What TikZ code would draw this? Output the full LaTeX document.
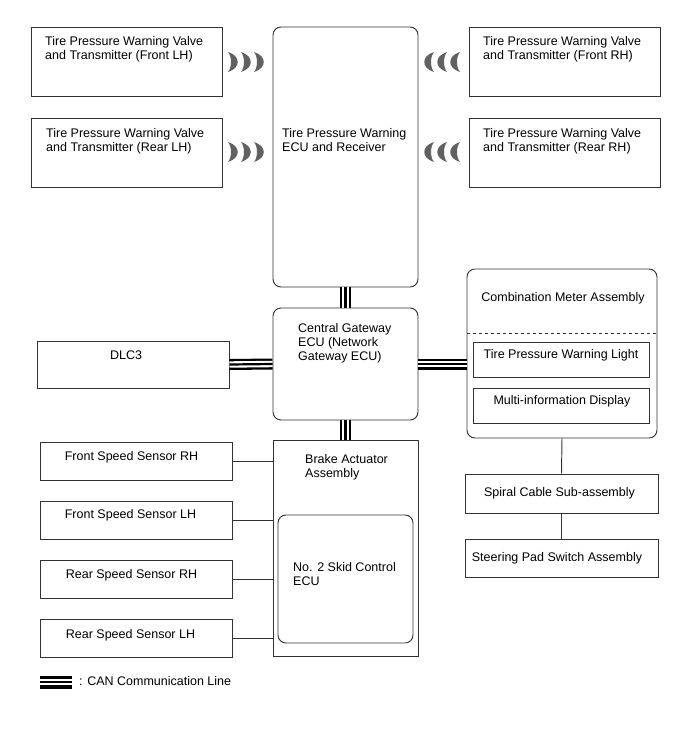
\documentclass[tikz,border=0pt]{standalone}
\usepackage{fontspec}
\setmainfont{Liberation Sans}
\usepackage{tikz}
\usetikzlibrary{positioning}
\tikzset{
  box/.style={draw=black!80, line width=0.95pt, inner sep=0pt},
  rbox/.style={box, rounded corners=8pt},
  txt/.style={inner sep=0pt, anchor=north west, align=left},
  ctxt/.style={inner sep=0pt, anchor=north, align=center},
  can/.style={line width=11pt, draw=black,
    postaction={draw=white, line width=6.4pt},
    postaction={draw=black, line width=2.2pt}},
  wire/.style={draw=black!80, line width=0.95pt},
  wave/.style={fill=black!62}
}

\begin{document}
\begin{tikzpicture}[x=1pt, y=-1pt, font=\fontsize{12.5}{14}\selectfont]
           \useasboundingbox (0,0) rectangle (688,755);
           % transmitters and receiver
           \node [box, minimum width=191pt, minimum height=69pt] (flh) at (126.5,61.5) {};
           \node [box, minimum width=191pt, minimum height=69pt] (rlh) at (126.5,152.5) {};
           \node [box, minimum width=191pt, minimum height=69pt] (frh) at (564.5,61.5) {};
           \node [box, minimum width=191pt, minimum height=69pt] (rrh) at (564.5,152.5) {};
           \node [rbox, minimum width=145pt, minimum height=260pt] (ecu) at (345.5,157) {};
           \node [txt] (flh-t) at (45,36) {Tire Pressure Warning Valve\\and Transmitter (Front LH)};
           \node [txt] (rlh-t) at (46,128) {Tire Pressure Warning Valve\\and Transmitter (Rear LH)};
           \node [txt] (frh-t) at (483,36) {Tire Pressure Warning Valve\\and Transmitter (Front RH)};
           \node [txt] (rrh-t) at (483,128) {Tire Pressure Warning Valve\\and Transmitter (Rear RH)};
           \node [txt] (ecu-t) at (282,128) {Tire Pressure Warning\\ECU and Receiver};
           \foreach \y in {62,152} {
             \foreach \x in {228,241,254}
               \fill [wave] (\x,\y-10) .. controls (\x+13,\y-6) and (\x+13,\y+6) .. (\x,\y+10)
                 .. controls (\x+4,\y+5) and (\x+4,\y-5) .. cycle;
             \foreach \x in {434,447,460}
               \fill [wave] (\x,\y-10) .. controls (\x-13,\y-6) and (\x-13,\y+6) .. (\x,\y+10)
                 .. controls (\x-4,\y+5) and (\x-4,\y-5) .. cycle;
           }
           % gateway, DLC3 and meter
           \node [rbox, minimum width=145pt, minimum height=112pt] (gw) at (345.5,364) {};
           \node [txt] (gw-t) at (298,323) {Central Gateway\\ECU (Network\\Gateway ECU)};
           \node [box, minimum width=192pt, minimum height=47pt] (dlc) at (133,364.5) {};
           \node [txt] (dlc-t) at (110,351) {DLC3};
           \node [rbox, minimum width=190pt, minimum height=169pt] (comb) at (562,353.5) {};
           \node [ctxt] (comb-t) at (563,292) {Combination Meter Assembly};
           \draw [dashed, draw=black!80, line width=0.9pt] (467,333) -- (657,333);
           \node [box, minimum width=176pt, minimum height=35pt] (light) at (561,359.5) {};
           \node [ctxt] (light-t) at (561,349) {Tire Pressure Warning Light};
           \node [box, minimum width=176pt, minimum height=35pt] (mid) at (561,405.5) {};
           \node [ctxt] (mid-t) at (562,395) {Multi-information Display};
           \node [box, minimum width=193pt, minimum height=39pt] (spiral) at (561.5,493.5) {};
           \node [ctxt] (spiral-t) at (559.5,487) {Spiral Cable Sub-assembly};
           \node [box, minimum width=193pt, minimum height=38pt] (steer) at (561.5,558) {};
           \node [ctxt] (steer-t) at (557,552) {Steering Pad Switch Assembly};
           % brake actuator and sensors
           \node [box, minimum width=145pt, minimum height=216pt] (brake) at (345.5,548) {};
           \node [txt] (brake-t) at (305,454) {Brake Actuator\\Assembly};
           \node [rbox, minimum width=135pt, minimum height=128pt] (skid) at (345.5,579) {};
           \node [txt] (skid-t) at (293,562) {No. 2 Skid Control\\ECU};
           \node [box, minimum width=192pt, minimum height=38pt] (fsrh) at (136,461) {};
           \node [box, minimum width=192pt, minimum height=38pt] (fslh) at (136,520) {};
           \node [box, minimum width=192pt, minimum height=38pt] (rsrh) at (136,579) {};
           \node [box, minimum width=192pt, minimum height=38pt] (rslh) at (136,638.5) {};
           \node [ctxt] (fsrh-t) at (131.5,451) {Front Speed Sensor RH};
           \node [ctxt] (fslh-t) at (130.5,509) {Front Speed Sensor LH};
           \node [ctxt] (rsrh-t) at (131.5,569) {Rear Speed Sensor RH};
           \node [ctxt] (rslh-t) at (130.5,629) {Rear Speed Sensor LH};
           % connections
           \draw [can] (ecu.south) -- (gw.north);
           \draw [can] (dlc.east) -- (gw.west);
           \draw [can] (gw.east) -- (gw.east -| comb.west);
           \draw [can] (gw.south) -- (brake.north);
           \draw [wire] (fsrh.east) -- (fsrh.east -| brake.west);
           \draw [wire] (fslh.east) -- (fslh.east -| brake.west);
           \draw [wire] (rsrh.east) -- (rsrh.east -| brake.west);
           \draw [wire] (rslh.east) -- (rslh.east -| brake.west);
           \draw [wire] (comb.south) -- (spiral.north);
           \draw [wire] (spiral.south) -- (steer.north);
           % legend
           \coordinate (leg-a) at (40,682);
           \coordinate (leg-b) at (72,682);
           \draw [can, line width=13pt] (leg-a) -- (leg-b);
           \node [txt] (leg-t) at (79,676) {: CAN Communication Line};
      \end{tikzpicture}
\end{document}
